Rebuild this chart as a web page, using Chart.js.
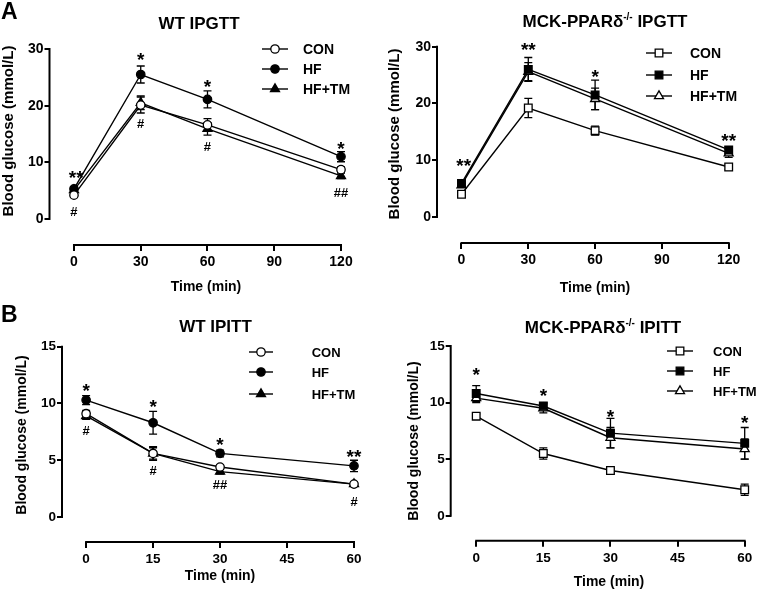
<!DOCTYPE html>
<html>
<head>
<meta charset="utf-8">
<title>Blood glucose – IPGTT / IPITT</title>
<script src="https://cdn.jsdelivr.net/npm/chart.js@4.4.1/dist/chart.umd.min.js"></script>
<style>
  html, body { margin: 0; padding: 0; background: #fff; }
  .panel { position: absolute; }
</style>
</head>
<body>
<div class="panel" style="left:0;top:0;width:378px;height:297px"><canvas id="gttWT"></canvas></div>
<div class="panel" style="left:378px;top:0;width:379px;height:297px"><canvas id="gttKO"></canvas></div>
<div class="panel" style="left:0;top:297px;width:378px;height:297px"><canvas id="ittWT"></canvas></div>
<div class="panel" style="left:378px;top:297px;width:379px;height:297px"><canvas id="ittKO"></canvas></div>
<script>
// ═══ DATA ═══
const GROUPS = ['CON', 'HF', 'HF+TM'];

// glucose tolerance (IPGTT)
const gttTimes = [0, 30, 60, 120];
const gttTicks = [0, 30, 60, 90, 120];
const gttYTicks = [0, 10, 20, 30];

const wtGttCon = [4.2, 20.1, 16.6, 8.7];
const wtGttConSem = [0.3, 1.4, 1.1, 0.5];
const wtGttHf = [5.3, 25.5, 21.1, 11.0];
const wtGttHfSem = [0.4, 1.5, 1.5, 0.9];
const wtGttTm = [5.1, 20.5, 15.9, 7.6];
const wtGttTmSem = [0.3, 1.2, 1.1, 0.5];

const koGttCon = [4.0, 19.2, 15.2, 8.8];
const koGttConSem = [0.3, 1.7, 0.8, 0.5];
const koGttHf = [5.9, 26.0, 21.5, 11.8];
const koGttHfSem = [0.4, 2.1, 2.6, 0.6];
const koGttTm = [5.6, 25.6, 20.8, 11.2];
const koGttTmSem = [0.3, 1.6, 1.9, 0.7];

// insulin tolerance (IPITT)
const ittTimes = [0, 15, 30, 60];
const ittTicks = [0, 15, 30, 45, 60];
const ittYTicks = [0, 5, 10, 15];

const wtIttCon = [9.1, 5.6, 4.4, 2.9];
const wtIttConSem = [0.3, 0.6, 0.2, 0.2];
const wtIttHf = [10.3, 8.3, 5.6, 4.5];
const wtIttHfSem = [0.4, 1.0, 0.3, 0.5];
const wtIttTm = [8.9, 5.6, 4.0, 2.9];
const wtIttTmSem = [0.3, 0.5, 0.2, 0.2];

const koIttCon = [8.8, 5.5, 4.0, 2.3];
const koIttConSem = [0.2, 0.5, 0.2, 0.5];
const koIttHf = [10.8, 9.7, 7.3, 6.4];
const koIttHfSem = [0.7, 0.3, 1.3, 1.4];
const koIttTm = [10.4, 9.5, 6.9, 5.9];
const koIttTmSem = [0.4, 0.4, 0.9, 0.9];

// significance marks: [time, glucose, text]
const wtGttMarks = [[1, 8.1, '**'], [0, 1.3, '#'], [30, 28.9, '*'], [30, 16.9, '#'],
                    [60, 24.2, '*'], [60, 12.8, '#'], [120, 13.2, '*'], [120, 4.6, '##']];
const koGttMarks = [[1, 9.8, '**'], [30, 30.3, '**'], [60, 25.6, '*'], [120, 14.2, '**']];
const wtIttMarks = [[0, 11.5, '*'], [0, 7.65, '#'], [15, 10.15, '*'], [15, 4.1, '#'],
                    [30, 6.8, '*'], [30, 2.85, '##'], [60, 5.7, '**'], [60, 1.4, '#']];
const koIttMarks = [[0, 12.9, '*'], [15, 11.0, '*'], [30, 9.2, '*'], [60, 8.6, '*']];

// ═══ STYLE ═══
const FONT = "Arial, 'Liberation Sans', sans-serif";
const Y_W = 40, X_H = 30;
const MARK = {
  circle: { style: 'circle', r: 4.2 },
  rect: { style: 'rect', r: 5.4 },
  triangle: { style: 'triangle', r: 5.2 }
};
const WT_MARKS = [['circle', false], ['circle', true], ['triangle', true]];
const KO_MARKS = [['rect', false], ['rect', true], ['triangle', false]];

function series(marks, vals, sems) {
  return GROUPS.map((g, i) => ({ label: g, values: vals[i], sem: sems[i], mark: marks[i][0], filled: marks[i][1] }));
}

// page coordinates; box = panel div [left, top, width, height]
const panels = [
  {
    id: 'gttWT', box: [0, 0, 378, 297], letter: 'A', letterPos: [1, 18.5],
    title: [{ t: 'WT IPGTT' }], titlePos: [199, 28.5],
    area: [49.5, 49, 341, 245], xMin: -11, xMax: 120, yMin: -4.6, yMax: 30,
    times: gttTimes, xTicks: gttTicks, yTicks: gttYTicks, tickSize: 14,
    yTitle: [8.5, 131, 15], xTitle: [206, 291],
    legend: { x0: 262, x1: 288, tx: 303, ys: [49, 69, 89], size: 14 },
    series: series(WT_MARKS, [wtGttCon, wtGttHf, wtGttTm], [wtGttConSem, wtGttHfSem, wtGttTmSem]),
    marks: wtGttMarks
  },
  {
    id: 'gttKO', box: [378, 0, 379, 297],
    title: [{ t: 'MCK-PPAR\u03b4' }, { t: '-/-', sup: true }, { t: ' IPGTT' }], titlePos: [605, 26.7],
    area: [437, 46.7, 728.7, 243], xMin: -11, xMax: 120, yMin: -4.6, yMax: 30,
    times: gttTimes, xTicks: gttTicks, yTicks: gttYTicks, tickSize: 14,
    yTitle: [395, 134, 15], xTitle: [595, 291.5],
    legend: { x0: 646, x1: 672, tx: 690, ys: [53, 75, 96], size: 14 },
    series: series(KO_MARKS, [koGttCon, koGttHf, koGttTm], [koGttConSem, koGttHfSem, koGttTmSem]),
    marks: koGttMarks
  },
  {
    id: 'ittWT', box: [0, 297, 378, 297], letter: 'B', letterPos: [1, 321.7],
    title: [{ t: 'WT IPITT' }], titlePos: [215.5, 331.7],
    area: [62, 346.7, 354, 542], xMin: -5.4, xMax: 60, yMin: -2.2, yMax: 15,
    times: ittTimes, xTicks: ittTicks, yTicks: ittYTicks, tickSize: 13.5,
    yTitle: [22.5, 435, 14], xTitle: [220, 580],
    legend: { x0: 249, x1: 273, tx: 311.7, ys: [352, 372, 394], size: 13 },
    series: series(WT_MARKS, [wtIttCon, wtIttHf, wtIttTm], [wtIttConSem, wtIttHfSem, wtIttTmSem]),
    marks: wtIttMarks
  },
  {
    id: 'ittKO', box: [378, 297, 379, 297],
    title: [{ t: 'MCK-PPAR\u03b4' }, { t: '-/-', sup: true }, { t: ' IPITT' }], titlePos: [603, 333.3],
    area: [450.7, 346, 744.7, 540.7], xMin: -5.7, xMax: 60, yMin: -2.2, yMax: 15,
    times: ittTimes, xTicks: ittTicks, yTicks: ittYTicks, tickSize: 13.5,
    yTitle: [414, 441, 14], xTitle: [609, 586],
    legend: { x0: 667, x1: 693, tx: 713, ys: [351, 371, 391], size: 13 },
    series: series(KO_MARKS, [koIttCon, koIttHf, koIttTm], [koIttConSem, koIttHfSem, koIttTmSem]),
    marks: koIttMarks
  }
];

// ═══ HELPERS ═══
function drawMarker(ctx, s, x, y) {
  ctx.save();
  ctx.strokeStyle = '#000';
  ctx.fillStyle = s.filled ? '#000' : '#fff';
  ctx.lineWidth = 1.3;
  Chart.helpers.drawPoint(ctx, { pointStyle: MARK[s.mark].style, radius: MARK[s.mark].r, rotation: 0, borderWidth: 1.3 }, x, y);
  ctx.restore();
}

function drawTitle(ctx, parts, cx, baseY) {
  const big = 'bold 17px ' + FONT, small = 'bold 10px ' + FONT;
  let total = 0;
  parts.forEach(p => { ctx.font = p.sup ? small : big; p.w = ctx.measureText(p.t).width; total += p.w; });
  let x = cx - total / 2;
  ctx.textAlign = 'left';
  ctx.textBaseline = 'alphabetic';
  parts.forEach(p => {
    ctx.font = p.sup ? small : big;
    ctx.fillText(p.t, x, p.sup ? baseY - 7 : baseY);
    x += p.w;
  });
}

// ═══ PANEL PLUGIN (offset axes, SEM bars, labels) ═══
function makeDeco(p) {
  return {
    id: 'deco_' + p.id,
    beforeDatasetsDraw(chart) {
      const { ctx, chartArea, scales: { x, y } } = chart;
      ctx.save();
      ctx.strokeStyle = '#000';
      ctx.lineWidth = 2;
      ctx.lineCap = 'square';
      ctx.beginPath();
      ctx.moveTo(chartArea.left, y.getPixelForValue(p.yTicks[0]));
      ctx.lineTo(chartArea.left, y.getPixelForValue(p.yTicks[p.yTicks.length - 1]));
      ctx.stroke();
      ctx.beginPath();
      ctx.moveTo(x.getPixelForValue(p.xTicks[0]), chartArea.bottom);
      ctx.lineTo(x.getPixelForValue(p.xTicks[p.xTicks.length - 1]), chartArea.bottom);
      ctx.stroke();

      ctx.lineWidth = 1.3;
      ctx.lineCap = 'butt';
      p.series.forEach(s => {
        s.values.forEach((v, i) => {
          const px = x.getPixelForValue(p.times[i]);
          const top = y.getPixelForValue(v + s.sem[i]);
          const bot = y.getPixelForValue(v - s.sem[i]);
          ctx.beginPath();
          ctx.moveTo(px, top); ctx.lineTo(px, bot);
          ctx.moveTo(px - 4, top); ctx.lineTo(px + 4, top);
          ctx.moveTo(px - 4, bot); ctx.lineTo(px + 4, bot);
          ctx.stroke();
        });
      });
      ctx.restore();
    },
    afterDraw(chart) {
      const { ctx, scales: { x, y } } = chart;
      ctx.save();
      ctx.fillStyle = '#000';

      // significance marks (scale coordinates)
      ctx.textAlign = 'center';
      ctx.textBaseline = 'alphabetic';
      p.marks.forEach(([t, v, txt]) => {
        const star = txt[0] === '*';
        const size = star ? 19 : 13;
        ctx.font = 'bold ' + size + 'px ' + FONT;
        const cy = y.getPixelForValue(v);
        ctx.fillText(txt, x.getPixelForValue(t), cy + (star ? 0.58 : 0.35) * size);
      });

      // everything below is placed in page coordinates
      ctx.translate(-p.box[0], -p.box[1]);
      if (p.letter) {
        ctx.font = 'bold 23px ' + FONT;
        ctx.textAlign = 'left';
        ctx.fillText(p.letter, p.letterPos[0], p.letterPos[1]);
      }
      drawTitle(ctx, p.title, p.titlePos[0], p.titlePos[1]);

      ctx.save();
      ctx.translate(p.yTitle[0], p.yTitle[1]);
      ctx.rotate(-Math.PI / 2);
      ctx.font = 'bold ' + p.yTitle[2] + 'px ' + FONT;
      ctx.textAlign = 'center';
      ctx.textBaseline = 'middle';
      ctx.fillText('Blood glucose (mmol/L)', 0, 0);
      ctx.restore();
      ctx.font = 'bold 14px ' + FONT;
      ctx.textAlign = 'center';
      ctx.textBaseline = 'alphabetic';
      ctx.fillText('Time (min)', p.xTitle[0], p.xTitle[1]);

      const lg = p.legend;
      p.series.forEach((s, i) => {
        const ly = lg.ys[i];
        ctx.strokeStyle = '#000';
        ctx.lineWidth = 1.4;
        ctx.beginPath();
        ctx.moveTo(lg.x0, ly); ctx.lineTo(lg.x1, ly);
        ctx.stroke();
        drawMarker(ctx, s, (lg.x0 + lg.x1) / 2, ly);
        ctx.fillStyle = '#000';
        ctx.font = 'bold ' + lg.size + 'px ' + FONT;
        ctx.textAlign = 'left';
        ctx.textBaseline = 'alphabetic';
        ctx.fillText(s.label, lg.tx, ly + lg.size * 0.36);
      });
      ctx.restore();
    }
  };
}

// ═══ CHARTS ═══
function makePanel(p) {
  const [ox, oy, bw, bh] = p.box;
  const L = p.area[0] - ox, T = p.area[1] - oy, R = p.area[2] - ox, B = p.area[3] - oy;
  const datasets = p.series.map(s => ({
    label: s.label,
    data: p.times.map((t, i) => ({ x: t, y: s.values[i] })),
    borderColor: '#000',
    borderWidth: 1.4,
    pointStyle: MARK[s.mark].style,
    pointRadius: MARK[s.mark].r,
    pointBorderWidth: 1.3,
    pointBorderColor: '#000',
    pointBackgroundColor: s.filled ? '#000' : '#fff',
    tension: 0,
    fill: false,
    clip: false
  }));
  const tickFont = { family: FONT, size: p.tickSize, weight: 'bold' };
  new Chart(document.getElementById(p.id), {
    type: 'line',
    data: { datasets },
    options: {
      responsive: true,
      maintainAspectRatio: false,
      animation: false,
      events: [],
      layout: { padding: { left: L - Y_W, top: T, right: bw - R, bottom: bh - B - X_H } },
      plugins: { legend: { display: false }, tooltip: { enabled: false } },
      scales: {
        x: {
          type: 'linear', min: p.xMin, max: p.xMax,
          afterBuildTicks: sc => { sc.ticks = p.xTicks.map(v => ({ value: v })); },
          afterFit: sc => { sc.height = X_H; },
          border: { display: false },
          grid: { drawOnChartArea: false, drawTicks: true, tickLength: 6, color: '#000', lineWidth: 2 },
          ticks: { color: '#000', font: tickFont, padding: 3, maxRotation: 0, autoSkip: false }
        },
        y: {
          type: 'linear', min: p.yMin, max: p.yMax,
          afterBuildTicks: sc => { sc.ticks = p.yTicks.map(v => ({ value: v })); },
          afterFit: sc => { sc.width = Y_W; },
          border: { display: false },
          grid: { drawOnChartArea: false, drawTicks: true, tickLength: 5, color: '#000', lineWidth: 2 },
          ticks: { color: '#000', font: tickFont, padding: 1, autoSkip: false }
        }
      }
    },
    plugins: [makeDeco(p)]
  });
}

panels.forEach(makePanel);
</script>
</body>
</html>
